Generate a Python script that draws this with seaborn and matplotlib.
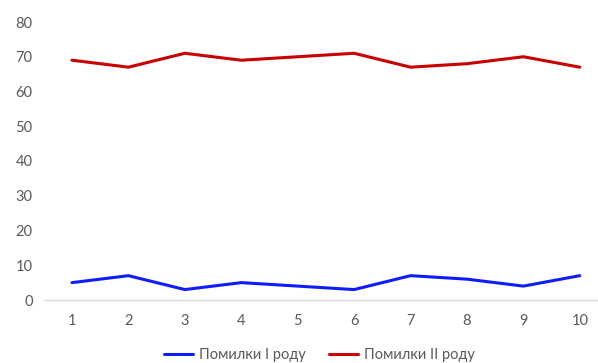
import matplotlib
matplotlib.use("Agg")
import matplotlib.pyplot as plt
import seaborn as sns
import pandas as pd

categories = [1, 2, 3, 4, 5, 6, 7, 8, 9, 10]
type1_errors = [5, 7, 3, 5, 4, 3, 7, 6, 4, 7]
type2_errors = [69, 67, 71, 69, 70, 71, 67, 68, 70, 67]
series_names = ["Помилки I роду", "Помилки II роду"]
yticks = [0, 10, 20, 30, 40, 50, 60, 70, 80]

sns.set_theme(style="white")
plt.rcParams['font.family'] = ['Lato', 'DejaVu Sans']

df = pd.DataFrame({
    "x": categories * 2,
    "y": type1_errors + type2_errors,
    "s": [series_names[0]] * len(categories) + [series_names[1]] * len(categories),
})

fig = plt.figure(figsize=(5.98, 3.63), dpi=100)
ax = fig.add_axes([43.8 / 598, (363 - 300) / 363, (608 - 43.8) / 598, (300 - 22) / 363])
sns.lineplot(data=df, x="x", y="y", hue="s", palette=["#0f1cff", "#c80000"],
             linewidth=2.2, ax=ax, legend=True)
ax.set_xlim(0.5, 10.5)
ax.set_ylim(0, 80)
ax.set_xticks(categories)
ax.set_yticks(yticks)
ax.set_xlabel("")
ax.set_ylabel("")
for s in ["top", "right", "left"]:
    ax.spines[s].set_visible(False)
ax.spines["bottom"].set_color("#d9d9d9")
ax.spines["bottom"].set_linewidth(1)
ax.tick_params(axis="both", length=0, labelsize=10.5, colors="#595959")
ax.tick_params(axis="y", pad=8)
ax.tick_params(axis="x", pad=10)
for lab in ax.get_xticklabels() + ax.get_yticklabels():
    lab.set_color("#595959")

handles, labels = ax.get_legend_handles_labels()
ax.legend_.remove()
fig.legend(handles, labels, loc="center", bbox_to_anchor=(319 / 598, 1 - 355 / 363),
           ncol=2, frameon=False, fontsize=10.5, labelcolor="#595959",
           handlelength=2.0, columnspacing=1.6, handletextpad=0.4)

fig.savefig("out.png", dpi=100)
